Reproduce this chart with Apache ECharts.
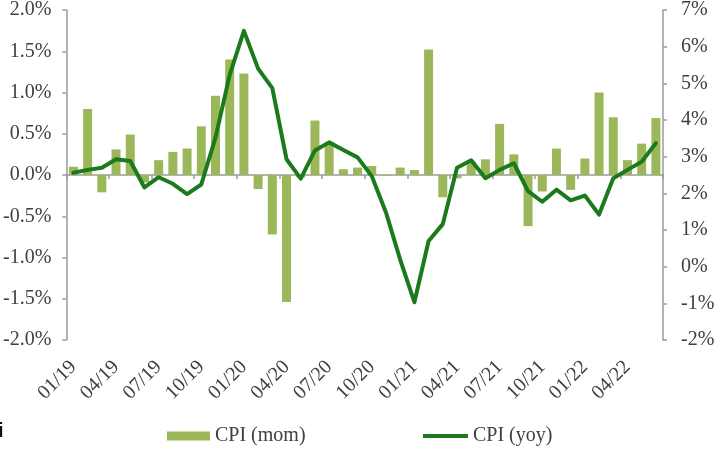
<!DOCTYPE html>
<html>
<head>
<meta charset="utf-8">
<script src="https://cdn.jsdelivr.net/npm/echarts@6/dist/echarts.min.js"></script>
<style>
html,body{margin:0;padding:0;background:#fff;}
#chart{width:720px;height:450px;}
</style>
</head>
<body>
<div id="chart"></div>
<script>
const months = ["01/19","02/19","03/19","04/19","05/19","06/19","07/19","08/19","09/19","10/19","11/19","12/19",
"01/20","02/20","03/20","04/20","05/20","06/20","07/20","08/20","09/20","10/20","11/20","12/20",
"01/21","02/21","03/21","04/21","05/21","06/21","07/21","08/21","09/21","10/21","11/21","12/21",
"01/22","02/22","03/22","04/22","05/22","06/22"];
const cpiMom = [0.10,0.80,-0.21,0.31,0.49,-0.09,0.18,0.28,0.32,0.59,0.96,1.40,
1.23,-0.17,-0.72,-1.54,-0.03,0.66,0.40,0.07,0.09,0.11,-0.01,0.09,
0.06,1.52,-0.27,-0.04,0.16,0.19,0.62,0.25,-0.62,-0.20,0.32,-0.18,
0.20,1.00,0.70,0.18,0.38,0.69];
const cpiYoy = [2.56,2.64,2.70,2.93,2.88,2.16,2.44,2.26,1.98,2.24,3.52,5.23,
6.43,5.40,4.87,2.93,2.40,3.17,3.39,3.18,2.98,2.47,1.48,0.19,
-0.97,0.70,1.16,2.70,2.90,2.41,2.64,2.82,2.06,1.77,2.10,1.81,
1.94,1.42,2.41,2.64,2.86,3.37];

const FONT = '"Liberation Serif", "Times New Roman", serif';
const TXT = '#404040';
const AX = '#9a9a9a';

const chart = echarts.init(document.getElementById('chart'));
chart.setOption({
  animation: false,
  backgroundColor: '#fff',
  textStyle: { fontFamily: FONT },
  grid: { left: 63, right: 57, top: 7, bottom: 110, containLabel: false },
  legend: [
    { left: 162, top: 421, itemWidth: 43, itemHeight: 9, itemGap: 5, icon: 'rect',
      data: ['CPI (mom)'], textStyle: { fontFamily: FONT, fontSize: 20, color: TXT } },
    { left: 418, top: 421, itemWidth: 45, itemHeight: 4, icon: 'rect',
      data: ['CPI (yoy)'], textStyle: { fontFamily: FONT, fontSize: 20, color: TXT } }
  ],
  graphic: [
    { type: 'text', left: -2, top: 421, style: { text: 'i', font: 'bold 20px "Liberation Sans", sans-serif', fill: '#111' } }
  ],
  xAxis: [
    { type: 'category', data: months, position: 'bottom', boundaryGap: true,
      axisLine: { show: false, onZero: false }, axisTick: { show: false },
      axisLabel: { interval: 2, rotate: 45, margin: 24, fontFamily: FONT, fontSize: 20, color: TXT },
      splitLine: { show: false } },
    { type: 'category', data: months, position: 'top', boundaryGap: true,
      axisLine: { show: true, onZero: true, lineStyle: { color: AX, width: 1.5 } },
      axisTick: { show: true, inside: true, interval: 2, length: 4, lineStyle: { color: AX, width: 1.5 } },
      axisLabel: { show: false }, splitLine: { show: false } }
  ],
  yAxis: [
    { type: 'value', position: 'left', min: -2, max: 2, interval: 0.5,
      axisLine: { show: true, lineStyle: { color: AX, width: 1.5 } },
      axisTick: { show: true, length: 4, lineStyle: { color: AX, width: 1.5 } },
      axisLabel: { margin: 15, fontFamily: FONT, fontSize: 20, color: TXT,
        formatter: v => v.toFixed(1) + '%' },
      splitLine: { show: false } },
    { type: 'value', position: 'right', min: -2, max: 7, interval: 1,
      axisLine: { show: true, lineStyle: { color: AX, width: 1.5 } },
      axisTick: { show: true, length: 4, lineStyle: { color: AX, width: 1.5 } },
      axisLabel: { margin: 18, fontFamily: FONT, fontSize: 20, color: TXT,
        formatter: v => v + '%' },
      splitLine: { show: false } }
  ],
  series: [
    { name: 'CPI (mom)', type: 'bar', xAxisIndex: 0, yAxisIndex: 0, data: cpiMom,
      barWidth: 9, itemStyle: { color: '#9bb75a' } },
    { name: 'CPI (yoy)', type: 'line', xAxisIndex: 0, yAxisIndex: 1, data: cpiYoy,
      symbol: 'none', smooth: false,
      lineStyle: { color: '#1b7a1b', width: 4, join: 'round', cap: 'round' },
      itemStyle: { color: '#1b7a1b' } }
  ]
});
</script>
</body>
</html>
